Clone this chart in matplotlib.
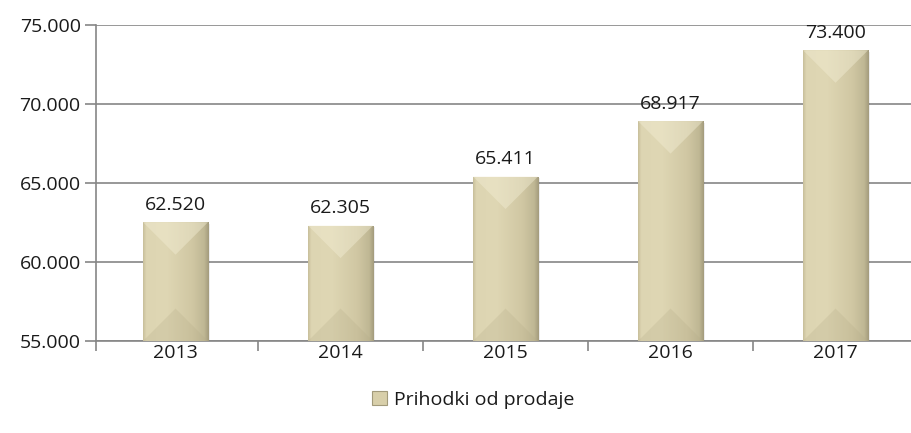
import matplotlib
matplotlib.use("Agg")
import matplotlib.pyplot as plt
import numpy as np
from matplotlib.patches import Polygon, Patch
from matplotlib.colors import LinearSegmentedColormap

plt.rcParams['font.family'] = ['Open Sans', 'DejaVu Sans']

years = ["2013", "2014", "2015", "2016", "2017"]
values = [62520, 62305, 65411, 68917, 73400]
series_name = "Prihodki od prodaje"
y_ticks = [55000, 60000, 65000, 70000, 75000]

def fmt(v):
    return f"{v:,.0f}".replace(",", ".")

W, H = 912, 433
fig = plt.figure(figsize=(W / 100, H / 100), dpi=100)
ax_left, ax_right, ax_top, ax_bottom = 96, 912, 25, 341
ax = fig.add_axes([ax_left / W, (H - ax_bottom) / H, (ax_right - ax_left) / W, (ax_bottom - ax_top) / H])

spacing_px = 165.0
x_start = -0.482
xlim = (x_start, x_start + (ax_right - ax_left) / spacing_px)
ylim = (55000, 75000)
ax.set_xlim(*xlim)
ax.set_ylim(*ylim)

x = np.arange(len(years))
bar_w = 0.394
base = "#D8CFAA"
bars = ax.bar(x, values, width=bar_w, color=base, zorder=3, edgecolor="none")

cmap = LinearSegmentedColormap.from_list(
    "bev", [(0.0, "#C8BF9A"), (0.05, "#DDD5B2"), (0.35, "#DFD7B4"),
            (0.75, "#D0C7A3"), (0.93, "#BFB794"), (1.0, "#A39B7C")])
grad = np.linspace(0, 1, 256).reshape(1, -1)

px_per_y = (ax_bottom - ax_top) / (ylim[1] - ylim[0])
ybot = ylim[0]
for p in bars.patches:
    x0 = p.get_x(); w = p.get_width(); top = p.get_height()
    x1 = x0 + w; xc = x0 + w / 2
    sh = Polygon([(x0 + 0.01, ybot), (x1 + 0.012, ybot), (x1 + 0.012, top - 120), (x0 + 0.01, top - 120)],
                 closed=True, facecolor="#000000", alpha=0.07, edgecolor="none", zorder=2.5)
    ax.add_patch(sh)
    im = ax.imshow(grad, cmap=cmap, aspect="auto", extent=(x0, x1, ybot, top),
                   zorder=3.1, interpolation="bilinear")
    im.set_clip_path(p)
    half_px = w * spacing_px / 2
    d = half_px / px_per_y
    tri_top = Polygon([(x0, top), (x1, top), (xc, top - d)], closed=True,
                      facecolor="#F2EDD4", alpha=0.45, edgecolor="none", zorder=3.2)
    tri_bot = Polygon([(x0, ybot), (x1, ybot), (xc, ybot + d)], closed=True,
                      facecolor="#B5AC88", alpha=0.25, edgecolor="none", zorder=3.2)
    ax.add_patch(tri_top)
    ax.add_patch(tri_bot)
    ax.annotate(fmt(top), (xc, top), xytext=(0, 6), textcoords="offset points",
                ha="center", va="bottom", fontsize=14, color="#1a1a1a", zorder=5)

ax.set_yticks(y_ticks)
ax.set_yticklabels([fmt(v) for v in y_ticks], fontsize=14, color="#1a1a1a")
ax.yaxis.grid(True, color="#868686", linewidth=1.2, zorder=1)
ax.set_axisbelow(True)

ax.set_xticks(x)
ax.set_xticklabels(years, fontsize=14, color="#1a1a1a")
minor = [xlim[0]] + list(np.arange(1, len(years)) - 0.5)
ax.set_xticks(minor, minor=True)
ax.tick_params(axis="x", which="major", length=0, pad=2)
ax.tick_params(axis="x", which="minor", length=7, color="#868686", width=1.2)
ax.tick_params(axis="y", length=8, color="#868686", width=1.2, pad=3)

ax.set_xlim(*xlim)
ax.set_ylim(*ylim)

for s in ["top", "right"]:
    ax.spines[s].set_visible(False)
for s in ["left", "bottom"]:
    ax.spines[s].set_color("#868686")
    ax.spines[s].set_linewidth(1.2)

handle = Patch(facecolor="#D8CFAA", edgecolor="#A29A7B", linewidth=0.8)
fig.legend([handle], [series_name], loc="center", bbox_to_anchor=(0.519, 0.076),
           frameon=False, fontsize=14, handlelength=0.75, handleheight=0.75,
           handletextpad=0.35, labelcolor="#1a1a1a")

fig.savefig("out.png", dpi=100)
